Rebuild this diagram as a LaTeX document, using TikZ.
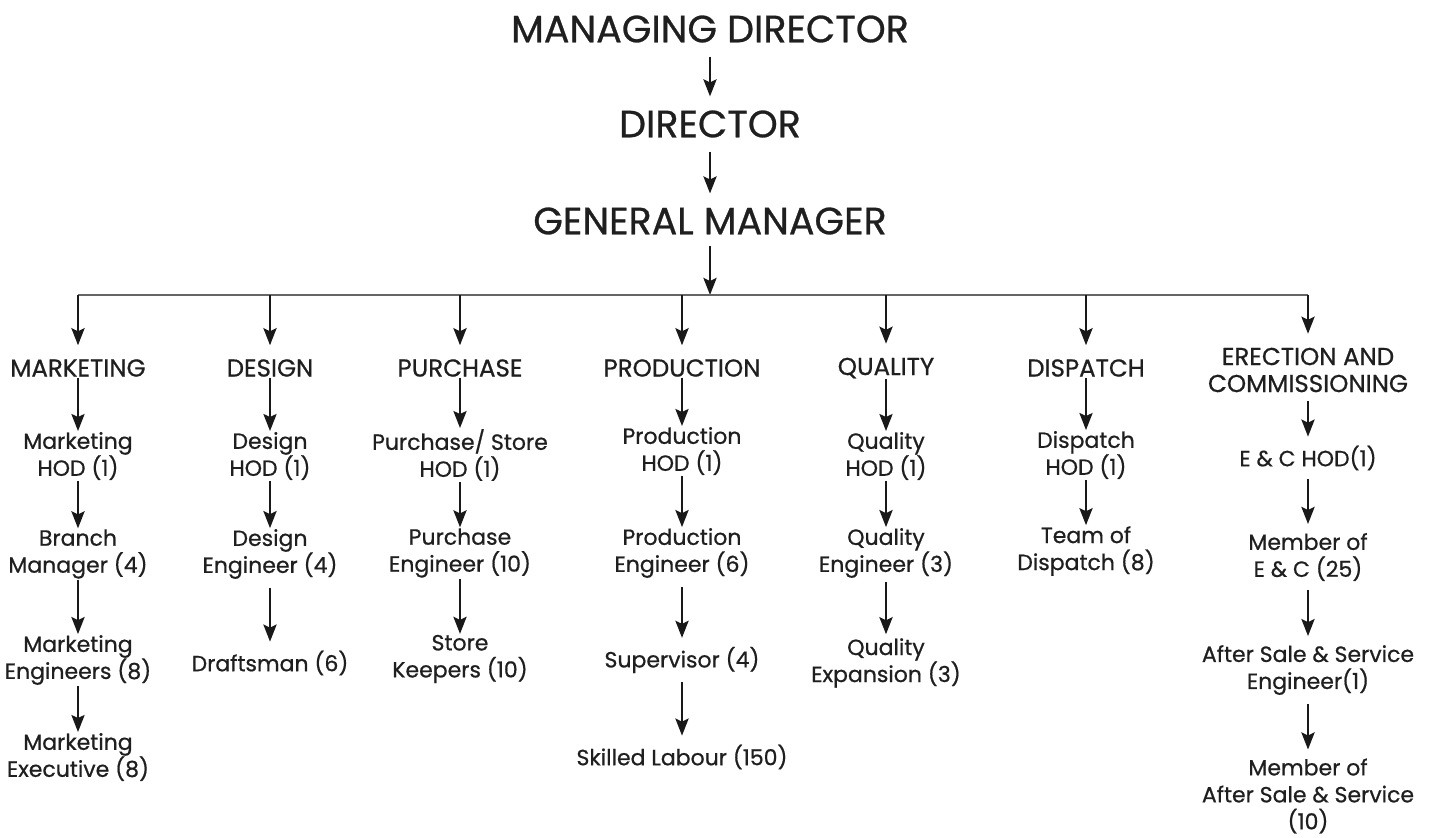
\documentclass[tikz,border=0pt]{standalone}
\usepackage{fontspec}
\setmainfont{Poppins}[FakeBold=0.7]
\usetikzlibrary{arrows.meta}
\begin{document}
\begin{tikzpicture}[x=1pt,y=-1pt,
  every node/.style={inner sep=0pt, outer sep=1pt, align=center, text=black!88},
  title/.style={font=\fontsize{38}{42}\selectfont},
  dept/.style={font=\fontsize{24.5}{27}\selectfont},
  role/.style={font=\fontsize{22}{27}\selectfont},
  arr/.style={-{Stealth[length=17pt,width=13pt,inset=3pt]}, line width=2.8pt, draw=black!90},
  gapped/.style={shorten <=#1, shorten >=#1},
  bar/.style={line width=1.6pt, draw=black!60}]
\useasboundingbox (0,0) rectangle (1430,838);
% top chain
\node[title] (md)  at (710,29)  {MANAGING DIRECTOR};
\node[title] (dir) at (710,124) {DIRECTOR};
\node[title] (gm)  at (710,221) {GENERAL MANAGER};
\coordinate (j)  at (710,295);
\coordinate (bl) at (78,295);
\coordinate (br) at (1308,295);
\coordinate (t1) at (78,295);
\coordinate (t2) at (270,295);
\coordinate (t3) at (460,295);
\coordinate (t4) at (682,295);
\coordinate (t5) at (886,295);
\coordinate (t6) at (1086,295);
\coordinate (t7) at (1308,295);
\draw[arr, gapped=13pt] (md) -- (dir);
\draw[arr, gapped=13pt] (dir) -- (gm);
\draw[arr, shorten <=10pt] (gm) -- (j);
\draw[bar] (bl) -- (br);
% departments
\node[dept] (mkt) at (78,368)   {MARKETING};
\node[dept] (des) at (270,368)  {DESIGN};
\node[dept] (pur) at (460,368)  {PURCHASE};
\node[dept] (pro) at (682,368)  {PRODUCTION};
\node[dept] (qua) at (886,368)  {QUALITY};
\node[dept] (dis) at (1086,368) {DISPATCH};
\node[dept] (ere) at (1308,370) {ERECTION AND\\COMMISSIONING};
\foreach \t/\d in {t1/mkt,t2/des,t3/pur,t4/pro,t5/qua,t6/dis,t7/ere}
  \draw[arr, shorten >=13pt] (\t) -- (\d);
% marketing
\node[role] (m1) at (78,456) {Marketing\\HOD (1)};
\node[role] (m2) at (78,554) {Branch\\Manager (4)};
\node[role] (m3) at (78,660) {Marketing\\Engineers (8)};
\node[role] (m4) at (78,757) {Marketing\\Executive (8)};
\draw[arr] (mkt) -- (m1);
\draw[arr] (m1) -- (m2);
\draw[arr] (m2) -- (m3);
\draw[arr] (m3) -- (m4);
% design
\node[role] (d1) at (270,456) {Design\\HOD (1)};
\node[role] (d2) at (270,554) {Design\\Engineer (4)};
\node[role] (d3) at (270,663) {Draftsman (6)};
\draw[arr] (des) -- (d1);
\draw[arr] (d1) -- (d2);
\draw[arr, gapped=8pt] (d2) -- (d3);
% purchase
\node[role] (p1) at (460,455) {Purchase/ Store\\HOD (1)};
\node[role] (p2) at (460,553) {Purchase\\Engineer (10)};
\node[role] (p3) at (460,659) {Store\\Keepers (10)};
\draw[arr] (pur) -- (p1);
\draw[arr] (p1) -- (p2);
\draw[arr] (p2) -- (p3);
% production
\node[role] (r1) at (682,451) {Production\\HOD (1)};
\node[role] (r2) at (682,553) {Production\\Engineer (6)};
\node[role] (r3) at (682,660) {Supervisor (4)};
\node[role] (r4) at (682,757) {Skilled Labour (150)};
\draw[arr] (pro) -- (r1);
\draw[arr] (r1) -- (r2);
\draw[arr, gapped=8pt] (r2) -- (r3);
\draw[arr, gapped=8pt] (r3) -- (r4);
% quality
\node[role] (q1) at (886,456) {Quality\\HOD (1)};
\node[role] (q2) at (886,553) {Quality\\Engineer (3)};
\node[role] (q3) at (886,663) {Quality\\Expansion (3)};
\draw[arr] (qua) -- (q1);
\draw[arr] (q1) -- (q2);
\draw[arr, gapped=3pt] (q2) -- (q3);
% dispatch
\node[role] (s1) at (1086,455) {Dispatch\\HOD (1)};
\node[role] (s2) at (1086,551) {Team of\\Dispatch (8)};
\draw[arr] (dis) -- (s1);
\draw[arr] (s1) -- (s2);
% erection
\node[role] (e1) at (1308,458) {E \& C HOD(1)};
\node[role] (e2) at (1308,557) {Member of\\E \& C (25)};
\node[role] (e3) at (1308,670) {After Sale \& Service\\Engineer(1)};
\node[role] (e4) at (1308,796) {Member of\\After Sale \& Service\\(10)};
\draw[arr, gapped=8pt] (ere) -- (e1);
\draw[arr, gapped=8pt] (e1) -- (e2);
\draw[arr, gapped=8pt] (e2) -- (e3);
\draw[arr, gapped=8pt] (e3) -- (e4);
\end{tikzpicture}
\end{document}
